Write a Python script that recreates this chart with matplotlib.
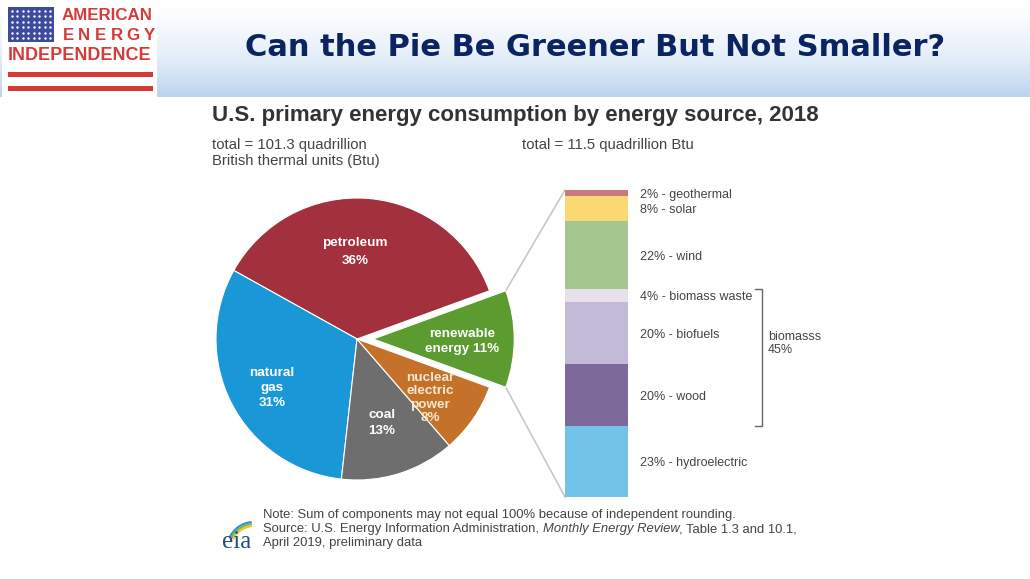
import numpy as np
import matplotlib
matplotlib.use('Agg')
import matplotlib.pyplot as plt
from matplotlib.colors import LinearSegmentedColormap
from matplotlib.patches import Rectangle, Arc
from matplotlib.transforms import blended_transform_factory

W, H = 1030, 579

# main pie: U.S. primary energy consumption 2018 (percent)
pie_labels = ['renewable\nenergy 11%', 'petroleum\n36%', 'natural\ngas\n31%',
              'coal\n13%', 'nuclear\nelectric\npower\n8%']
pie_shares = [11, 36, 31, 13, 8]
pie_colors = ['#5b9b2f', '#a2303d', '#1a97d6', '#6e6e6e', '#c4722a']

# renewable breakdown, bottom to top (percent)
ren_names = ['hydroelectric', 'wood', 'biofuels', 'biomass waste', 'wind', 'solar', 'geothermal']
ren_shares = [23, 20, 20, 4, 22, 8, 2]
ren_colors = ['#73c3e9', '#7d6a9b', '#c2bad7', '#e6e1ec', '#a6c68f', '#fbd972', '#c97a7c']
biomass_total = 45

plt.rcParams['font.family'] = ['Liberation Sans', 'DejaVu Sans']

fig = plt.figure(figsize=(W / 100, H / 100), dpi=100)
fig.patch.set_facecolor('white')

def px_axes(left, top, width, height):
    return fig.add_axes([left / W, 1 - (top + height) / H, width / W, height / H])

# background / decoration layer in pixel coords
bg = fig.add_axes([0, 0, 1, 1])
bg.set_xlim(0, W)
bg.set_ylim(H, 0)
bg.axis('off')

# header band gradient
grad = np.linspace(0, 1, 100) ** 1.3
cmap = LinearSegmentedColormap.from_list('band', ['#ffffff', '#e4eef9', '#bcd4ef'])
bg.imshow(grad[:, None], cmap=cmap, extent=(0, W, 97, 0), aspect='auto', zorder=0)

# logo
bg.add_patch(Rectangle((2, 1), 155, 96, facecolor='white', edgecolor='none', zorder=1))
bg.add_patch(Rectangle((8, 7), 46, 35, facecolor='#3c4b9b', edgecolor='none', zorder=2))
sx, sy = np.meshgrid(np.linspace(12, 50, 8), np.linspace(11, 38, 6))
bg.scatter(sx.ravel(), sy.ravel(), s=3, color='white', zorder=3, linewidths=0)
red = '#d63b3a'
bg.text(152, 16, 'AMERICAN', color=red, fontsize=12.2, fontweight='bold',
        ha='right', va='center', zorder=3)
for i, ch in enumerate('ENERGY'):
    bg.text(68 + i * 16.3, 35, ch, color=red, fontsize=12.2, fontweight='bold',
            ha='center', va='center', zorder=3)
bg.text(80, 56, 'INDEPENDENCE', color=red, fontsize=13, fontweight='bold',
        ha='center', va='center', zorder=3)
bg.add_patch(Rectangle((8, 72), 145, 5, facecolor=red, edgecolor='none', zorder=2))
bg.add_patch(Rectangle((8, 86), 145, 5, facecolor=red, edgecolor='none', zorder=2))

bg.text(595, 48, 'Can the Pie Be Greener But Not Smaller?', color='#0a2462',
        fontsize=22, fontweight='bold', ha='center', va='center',
        family='DejaVu Sans', zorder=3)

# chart titles
dark = '#333333'
grey = '#444444'
bg.text(212, 115, 'U.S. primary energy consumption by energy source, 2018',
        fontsize=16, fontweight='bold', color=dark, ha='left', va='center')
bg.text(212, 145, 'total = 101.3 quadrillion', fontsize=10.7, color=grey, va='center')
bg.text(212, 161, 'British thermal units (Btu)', fontsize=10.7, color=grey, va='center')
bg.text(522, 145, 'total = 11.5 quadrillion Btu', fontsize=10.7, color=grey, va='center')

# pie
R = 141
pad = 1.3
pie_ax = px_axes(357 - pad * R, 339 - pad * R, 2 * pad * R, 2 * pad * R)
wedges, _ = pie_ax.pie(pie_shares, colors=pie_colors,
                       startangle=-20, counterclock=True,
                       explode=[0.115, 0, 0, 0, 0],
                       wedgeprops=dict(edgecolor='white', linewidth=0.8))
pie_ax.set_xlim(-pad, pad)
pie_ax.set_ylim(-pad, pad)
pie_ax.axis('off')

# label placement inside the wedges (x, y in pie units), line spacing, colour
label_pos = [(0.745, -0.02), (-0.014, 0.617), (-0.603, -0.348), (0.177, -0.596), (0.518, -0.418)]
label_ls = [1.35, 1.6, 1.35, 1.5, 1.15]
label_col = ['white', 'white', 'white', 'white', '#f6e7cf']
for lab, (lx, ly), ls, col in zip(pie_labels, label_pos, label_ls, label_col):
    pie_ax.text(lx, ly, lab, color=col, fontsize=9.7, fontweight='bold',
                ha='center', va='center', linespacing=ls, multialignment='center')

# stacked bar of renewables
bar_ax = px_axes(565, 190, 63, 307)
bottom = 0
centers = []
for v, c in zip(ren_shares, ren_colors):
    bar_ax.bar(0, v, bottom=bottom, width=1, color=c, edgecolor='none')
    centers.append(bottom + v / 2)
    bottom += v
bar_ax.set_xlim(-0.5, 0.5)
bar_ax.set_ylim(0, sum(ren_shares))
bar_ax.axis('off')

tr = blended_transform_factory(bar_ax.transAxes, bar_ax.transData)
for name, v, yc in zip(ren_names, ren_shares, centers):
    bar_ax.text(1.19, yc - 0.6, f'{v}% - {name}', transform=tr, fontsize=9,
                color=grey, ha='left', va='center', clip_on=False)

# biomass bracket
b_lo = ren_shares[0]
b_hi = sum(ren_shares[:4])
bx = 3.13
bar_ax.plot([bx - 0.12, bx, bx, bx - 0.12], [b_hi, b_hi, b_lo, b_lo],
            transform=tr, color='#666666', lw=1, clip_on=False)
bar_ax.text(3.22, 49.5, f'biomasss\n{biomass_total}%', transform=tr, fontsize=9,
            color=grey, ha='left', va='center', linespacing=1.05, clip_on=False)

# connector lines from the renewable wedge to the bar
fig.canvas.draw()
w = wedges[0]
cx, cy = w.center
inv = bg.transData.inverted()
def wedge_corner(theta):
    p = (cx + w.r * np.cos(np.radians(theta)), cy + w.r * np.sin(np.radians(theta)))
    return inv.transform(pie_ax.transData.transform(p))
for theta, ytop in [(w.theta2, sum(ren_shares)), (w.theta1, 0)]:
    p0 = wedge_corner(theta)
    p1 = inv.transform(bar_ax.transData.transform((-0.5, ytop)))
    bg.plot([p0[0], p1[0]], [p0[1], p1[1]], color='#c8c8c8', lw=1.2, zorder=1)

# footnote
note_fs = 9.4
bg.text(263, 515, 'Note: Sum of components may not equal 100% because of independent rounding.',
        fontsize=note_fs, color=grey, va='center')
renderer = fig.canvas.get_renderer()
x = 263
for piece, style in [('Source: U.S. Energy Information Administration, ', 'normal'),
                     ('Monthly Energy Review', 'italic'),
                     (', Table 1.3 and 10.1,', 'normal')]:
    t = bg.text(x, 529, piece, fontsize=note_fs, color=grey, va='center', style=style)
    bb = t.get_window_extent(renderer)
    x = inv.transform((bb.x1, bb.y0))[0]
bg.text(263, 543, 'April 2019, preliminary data', fontsize=note_fs, color=grey, va='center')

# eia logo (y axis is flipped here, so angles are mirrored)
bg.text(237, 542, 'eia', fontsize=18, color='#1d4e89', family='Liberation Serif',
        ha='center', va='center')
for rr, col in [(54, '#2a8fcf'), (50, '#7ab648'), (46, '#f2c230')]:
    bg.add_patch(Arc((254, 549), rr, rr, theta1=205, theta2=265, color=col, lw=1.5))

fig.savefig('out.png', dpi=100, facecolor='white')
